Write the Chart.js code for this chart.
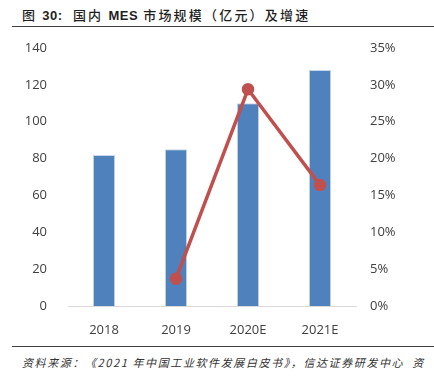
<!DOCTYPE html>
<html>
<head>
<meta charset="utf-8">
<script src="https://cdn.jsdelivr.net/npm/chart.js@4"></script>
<style>
  body { margin: 0; width: 434px; height: 378px; overflow: hidden; background: #fff; position: relative; font-family: "Noto Sans CJK SC", sans-serif; }
  #title { position: absolute; left: 22px; top: 5px; font-size: 13px; font-weight: 500; letter-spacing: 2.2px; color: #1f1f1f; white-space: pre; }
  #title .en { font-family: "Liberation Sans", Arial, sans-serif; font-weight: bold; letter-spacing: 0.5px; }
  #topline { position: absolute; left: 12px; top: 26px; width: 422px; height: 1px; background: #404040; }
  #botline { position: absolute; left: 12px; top: 346px; width: 422px; height: 1px; background: #404040; }
  #source { position: absolute; left: 22px; top: 354px; font-size: 11px; font-style: italic; letter-spacing: 1.6px; color: #333; white-space: pre; }
  #wrap { position: absolute; left: 0; top: 0; width: 434px; height: 340px; }
</style>
</head>
<body>
<div id="title">图 <span class="en">30:</span>  国内 <span class="en">MES</span> 市场规模（亿元）及增速</div>
<div id="topline"></div>
<div id="wrap"><canvas id="chart"></canvas></div>
<div id="botline"></div>
<div id="source">资料来源：《2021 年中国工业软件发展白皮书》，信达证券研发中心  资</div>
<script>
const years = ['2018', '2019', '2020E', '2021E'];
const marketSize = [82, 85, 110, 128];
const growthRate = [null, 3.7, 29.4, 16.4];

const ctx = document.getElementById('chart');
new Chart(ctx, {
    data: {
        labels: years,
        datasets: [
            {
                type: 'line',
                label: '增速',
                data: growthRate,
                yAxisID: 'y1',
                borderColor: '#C0504D',
                backgroundColor: '#C0504D',
                borderWidth: 3.5,
                pointRadius: 4.5,
                pointHoverRadius: 4.5,
                tension: 0
            },
            {
                type: 'bar',
                label: '市场规模',
                data: marketSize,
                yAxisID: 'y',
                backgroundColor: '#4F81BD',
                borderColor: '#C9D7EA',
                borderWidth: 1,
                categoryPercentage: 1,
                barPercentage: 0.31
            }
        ]
    },
    options: {
        responsive: true,
        maintainAspectRatio: false,
        animation: false,
        layout: { padding: { top: 48, left: 0, right: 0, bottom: 0 } },
        plugins: { legend: { display: false }, tooltip: { enabled: false } },
        scales: {
            x: {
                grid: { display: false },
                border: { display: true, color: '#d9d9d9', width: 1 },
                ticks: { color: '#404040', font: { family: 'Open Sans', size: 13 }, padding: 8 },
                afterFit: s => { s.height = 34; }
            },
            y: {
                position: 'left',
                min: 0,
                max: 140,
                grid: { display: false },
                border: { display: false },
                ticks: { stepSize: 20, color: '#404040', font: { family: 'Open Sans', size: 13 }, padding: 13 },
                afterFit: s => { s.width = 68; }
            },
            y1: {
                position: 'right',
                min: 0,
                max: 35,
                grid: { display: false },
                border: { display: false },
                ticks: {
                    stepSize: 5,
                    color: '#404040',
                    font: { family: 'Open Sans', size: 13 },
                    padding: 6,
                    callback: v => v + '%'
                },
                afterFit: s => { s.width = 78; }
            }
        }
    }
});
</script>
</body>
</html>
